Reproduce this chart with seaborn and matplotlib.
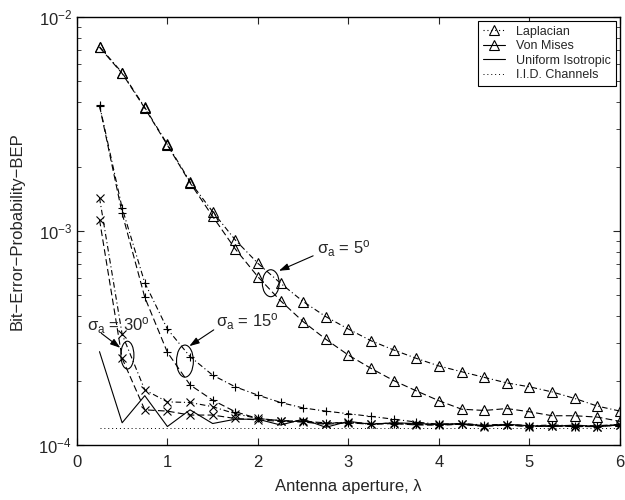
import pandas as pd
import matplotlib.pyplot as plt
import seaborn as sns
from matplotlib.patches import Ellipse
from matplotlib.lines import Line2D


aperture = [0.25, 0.5, 0.75, 1.0, 1.25, 1.5, 1.75, 2.0, 2.25, 2.5, 2.75, 3.0,
            3.25, 3.5, 3.75, 4.0, 4.25, 4.5, 4.75, 5.0, 5.25, 5.5, 5.75, 6.0]

#sigma_a = 5 deg
lap_5 = [7.26e-3, 5.49e-3, 3.78e-3, 2.54e-3, 1.70e-3, 1.23e-3, 9.08e-4, 7.06e-4,
         5.70e-4, 4.68e-4, 3.98e-4, 3.48e-4, 3.07e-4, 2.78e-4, 2.54e-4, 2.34e-4,
         2.20e-4, 2.07e-4, 1.95e-4, 1.87e-4, 1.77e-4, 1.65e-4, 1.52e-4, 1.44e-4]
vm_5 = [7.22e-3, 5.45e-3, 3.75e-3, 2.52e-3, 1.68e-3, 1.17e-3, 8.24e-4, 6.11e-4,
        4.72e-4, 3.77e-4, 3.12e-4, 2.63e-4, 2.28e-4, 2.00e-4, 1.79e-4, 1.61e-4,
        1.47e-4, 1.45e-4, 1.48e-4, 1.43e-4, 1.37e-4, 1.37e-4, 1.35e-4, 1.29e-4]

#sigma_a = 15 deg
lap_15 = [3.88e-3, 1.28e-3, 5.73e-4, 3.48e-4, 2.59e-4, 2.12e-4, 1.87e-4, 1.71e-4,
          1.58e-4, 1.49e-4, 1.44e-4, 1.40e-4, 1.36e-4, 1.32e-4, 1.28e-4, 1.25e-4,
          1.26e-4, 1.24e-4, 1.25e-4, 1.23e-4, 1.24e-4, 1.23e-4, 1.23e-4, 1.25e-4]
vm_15 = [3.85e-3, 1.21e-3, 4.90e-4, 2.71e-4, 1.91e-4, 1.62e-4, 1.43e-4, 1.33e-4,
         1.30e-4, 1.29e-4, 1.27e-4, 1.27e-4, 1.26e-4, 1.26e-4, 1.25e-4, 1.24e-4,
         1.25e-4, 1.23e-4, 1.24e-4, 1.22e-4, 1.23e-4, 1.22e-4, 1.22e-4, 1.24e-4]

#sigma_a = 30 deg
lap_30 = [1.43e-3, 3.29e-4, 1.81e-4, 1.59e-4, 1.58e-4, 1.51e-4, 1.40e-4, 1.33e-4,
          1.30e-4, 1.29e-4, 1.26e-4, 1.28e-4, 1.25e-4, 1.27e-4, 1.25e-4, 1.25e-4,
          1.25e-4, 1.23e-4, 1.24e-4, 1.23e-4, 1.23e-4, 1.23e-4, 1.22e-4, 1.24e-4]
vm_30 = [1.13e-3, 2.54e-4, 1.46e-4, 1.44e-4, 1.38e-4, 1.38e-4, 1.33e-4, 1.31e-4,
         1.29e-4, 1.28e-4, 1.25e-4, 1.27e-4, 1.25e-4, 1.26e-4, 1.24e-4, 1.24e-4,
         1.25e-4, 1.22e-4, 1.24e-4, 1.22e-4, 1.23e-4, 1.22e-4, 1.22e-4, 1.24e-4]

uniform = [2.73e-4, 1.27e-4, 1.70e-4, 1.22e-4, 1.46e-4, 1.26e-4, 1.32e-4, 1.32e-4,
           1.24e-4, 1.32e-4, 1.21e-4, 1.29e-4, 1.25e-4, 1.27e-4, 1.26e-4, 1.25e-4,
           1.26e-4, 1.23e-4, 1.25e-4, 1.23e-4, 1.22e-4, 1.24e-4, 1.22e-4, 1.25e-4]

iid_x = [0.25, 6.0]
iid_bep = [1.2e-4, 1.2e-4]


sns.set_style("ticks")
plt.rcParams['font.family'] = ['Liberation Sans', 'DejaVu Sans']
plt.rcParams['mathtext.fontset'] = 'custom'
plt.rcParams['mathtext.rm'] = 'Liberation Sans'
plt.rcParams['mathtext.it'] = 'Liberation Sans:italic'
plt.rcParams['xtick.direction'] = 'in'
plt.rcParams['ytick.direction'] = 'in'

fig = plt.figure(figsize=(6.25, 5), dpi=100)
ax = fig.add_axes([0.123, 0.11, 0.869, 0.856])

dashdot = (5, 2.5, 1, 2.5)
dashed = (6, 3)
lw = 0.8

df = pd.DataFrame({'aperture': aperture,
                   'lap_5': lap_5, 'vm_5': vm_5,
                   'lap_15': lap_15, 'vm_15': vm_15,
                   'lap_30': lap_30, 'vm_30': vm_30,
                   'uniform': uniform})

series = [('lap_5', '^', dashdot),
          ('vm_5', '^', dashed),
          ('lap_15', '+', dashdot),
          ('vm_15', '+', dashed),
          ('lap_30', 'x', dashdot),
          ('vm_30', 'x', dashed)]

for col, mk, dash in series:
    msize = 7.5 if mk == '^' else 6
    sns.lineplot(data=df, x='aperture', y=col, ax=ax, color='black', lw=lw,
                 dashes=False, marker=mk, markersize=msize, markerfacecolor='none',
                 markeredgecolor='black', markeredgewidth=0.8, legend=False)
    ax.lines[-1].set_dashes(dash)

sns.lineplot(data=df, x='aperture', y='uniform', ax=ax, color='black', lw=lw, legend=False)
ax.plot(iid_x, iid_bep, color='black', lw=0.7, linestyle=(0, (1, 3)))

ax.set_yscale('log')
ax.set_xlim(0, 6)
ax.set_ylim(1e-4, 1e-2)
ax.set_xticks([0, 1, 2, 3, 4, 5, 6])
ax.tick_params(which='both', top=True, right=True, labelsize=12)
ax.tick_params(which='major', length=5, width=0.8)
ax.tick_params(axis='x', which='major', pad=7)
ax.tick_params(which='minor', length=3, width=0.6)
for s in ax.spines.values():
    s.set_linewidth(1.0)
    s.set_color('black')

ax.set_xlabel('Antenna aperture, λ', fontsize=12, labelpad=7)
ax.set_ylabel('Bit\u2212Error\u2212Probability\u2212BEP', fontsize=12, labelpad=10)

#legend
handles = [Line2D([], [], color='black', lw=lw, dashes=(1, 2.5), marker='^',
                  markersize=7, markerfacecolor='none', markeredgewidth=0.8),
           Line2D([], [], color='black', lw=lw, marker='^',
                  markersize=7, markerfacecolor='none', markeredgewidth=0.8),
           Line2D([], [], color='black', lw=lw),
           Line2D([], [], color='black', lw=0.7, linestyle=(0, (1, 3)))]
labels = ['Laplacian', 'Von Mises', 'Uniform Isotropic', 'I.I.D. Channels']
leg = ax.legend(handles, labels, loc='upper right', fontsize=9, frameon=True,
                fancybox=False, edgecolor='black', framealpha=1,
                handlelength=1.8, handletextpad=0.9, labelspacing=0.2,
                borderpad=0.35, borderaxespad=0.35)
leg.get_frame().set_linewidth(0.8)

#sigma annotations (axes fraction): text position, arrow tail, arrow head, ellipse
notes = [(r'σ$_{\mathrm{a}}$ = 5$^{\mathrm{o}}$', (0.442, 0.458), (0.435, 0.442), (0.372, 0.407), (0.357, 0.378), 0.031, 0.063),
         (r'σ$_{\mathrm{a}}$ = 15$^{\mathrm{o}}$', (0.257, 0.288), (0.252, 0.269), (0.207, 0.231), (0.199, 0.196), 0.031, 0.075),
         (r'σ$_{\mathrm{a}}$ = 30$^{\mathrm{o}}$', (0.018, 0.280), (0.045, 0.261), (0.080, 0.227), (0.093, 0.210), 0.024, 0.065)]
for txt, tpos, tail, head, ctr, w, h in notes:
    ax.add_patch(Ellipse(ctr, w, h, transform=ax.transAxes, fill=False,
                         edgecolor='black', lw=0.8))
    ax.text(tpos[0], tpos[1], txt, transform=ax.transAxes, fontsize=12,
            va='center', ha='left')
    ax.annotate('', xy=head, xycoords='axes fraction', xytext=tail,
                textcoords='axes fraction',
                arrowprops=dict(arrowstyle='-|>,head_length=0.6,head_width=0.2',
                                color='black', lw=0.8, shrinkA=0, shrinkB=0))

fig.savefig('out.png', dpi=100)
